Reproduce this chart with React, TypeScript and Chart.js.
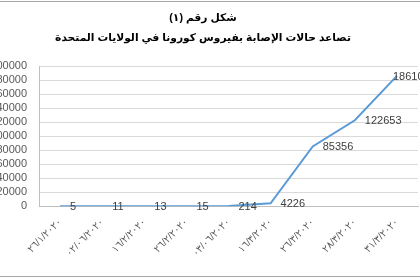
import React, { useEffect, useRef } from "react";
import { Chart, registerables } from "chart.js";

Chart.register(...registerables);

const categories = [
  "٢٦/١/٢٠٢٠",
  "٠٢/٠٦/٢٠٢٠",
  "١٦/٢/٢٠٢٠",
  "٢٦/٢/٢٠٢٠",
  "٠٣/٠٦/٢٠٢٠",
  "١٦/٣/٢٠٢٠",
  "٢٦/٣/٢٠٢٠",
  "٢٨/٣/٢٠٢٠",
  "٣١/٣/٢٠٢٠",
];
const cases = [5, 11, 13, 15, 214, 4226, 85356, 122653, 186101];
const titleLines = ["شكل رقم (١)", "تصاعد حالات الإصابة بفيروس كورونا في الولايات المتحدة"];
const yMin = 0;
const yMax = 200000;
const yStep = 20000;

const FONT = "'Liberation Sans', 'DejaVu Sans', Arial, sans-serif";
const SHIFT = 12;
const Y_AXIS_WIDTH = 51;

const valueLabels = {
  id: "valueLabels",
  afterDatasetsDraw(chart: any) {
    const ctx = chart.ctx;
    const meta = chart.getDatasetMeta(0);
    const data = chart.data.datasets[0].data as number[];
    ctx.save();
    ctx.font = `11px ${FONT}`;
    ctx.fillStyle = "#404040";
    ctx.textAlign = "left";
    ctx.textBaseline = "middle";
    meta.data.forEach((pt: any, i: number) => {
      const dx = i === data.length - 1 ? -4 : 10;
      ctx.fillText(String(data[i]), pt.x + dx, pt.y + 1);
    });
    ctx.restore();
  },
};

export default function App() {
  const ref = useRef<HTMLCanvasElement>(null);
  useEffect(() => {
    document.body.style.margin = "0";
    const chart = new Chart(ref.current!, {
      type: "line",
      data: {
        labels: categories,
        datasets: [
          {
            data: cases,
            borderColor: "#5b9bd5",
            borderWidth: 2,
            pointRadius: 0,
            tension: 0,
            fill: false,
          },
        ],
      },
      options: {
        responsive: false,
        animation: false,
        layout: { padding: { left: 0, right: 14, top: 0, bottom: 7 } },
        plugins: {
          legend: { display: false },
          tooltip: { enabled: false },
          title: {
            display: true,
            text: titleLines,
            color: "#000000",
            font: { family: FONT, size: 10.7, weight: "bold", lineHeight: 1.78 },
            padding: { top: 7, bottom: 19 },
          },
        },
        scales: {
          x: {
            offset: true,
            grid: { drawOnChartArea: false, drawTicks: false },
            border: { display: true, color: "#bfbfbf" },
            ticks: {
              color: "#595959",
              font: { family: FONT, size: 10 },
              maxRotation: 45,
              minRotation: 45,
              padding: 10,
              autoSkip: false,
            },
          },
          y: {
            min: yMin,
            max: yMax,
            afterFit: (scale: any) => {
              scale.width = Y_AXIS_WIDTH;
            },
            grid: { color: "#d9d9d9", drawTicks: false },
            border: { display: true, color: "#bfbfbf" },
            ticks: {
              stepSize: yStep,
              autoSkip: false,
              color: "#595959",
              font: { family: FONT, size: 11 },
              padding: 12,
              callback: (v: any) => String(v),
            },
          },
        },
      },
      plugins: [valueLabels],
    });
    return () => chart.destroy();
  }, []);

  return (
    <div style={{ position: "fixed", left: 0, top: 0, width: 420, height: 280, overflow: "hidden", background: "#fff" }}>
      <div style={{ position: "absolute", left: 0, top: 1, width: 420, height: 1, background: "#a6a6a6" }} />
      <div style={{ position: "absolute", left: 0, top: 276, width: 420, height: 1, background: "#a6a6a6" }} />
      <div style={{ position: "absolute", left: -SHIFT, top: 2, width: 420 + 2 * SHIFT, height: 274 }}>
        <canvas ref={ref} width={420 + 2 * SHIFT} height={274} />
      </div>
    </div>
  );
}
